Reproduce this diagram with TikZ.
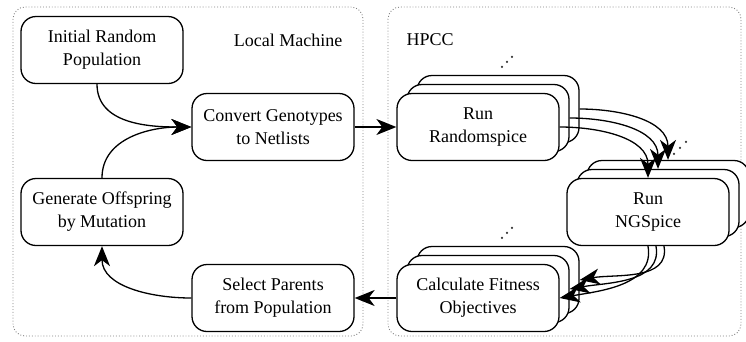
\documentclass[tikz,border=0pt]{standalone}
\usepackage{fontspec}
\setmainfont{Liberation Serif}
\newfontfamily\boxfont{Liberation Serif}
\usetikzlibrary{arrows.meta}

\tikzset{
  task/.style={draw, line width=1.3pt, rounded corners=15pt, fill=white, align=center,
    minimum width=162pt, minimum height=67pt, inner sep=2pt, font=\boxfont\fontsize{18}{23}\selectfont},
  machine/.style={draw=gray, dotted, line width=0.9pt, rounded corners=12pt},
  arr/.style={line width=1.3pt, -{Stealth[length=20pt,width=16pt,inset=6pt]}},
  lbl/.style={font=\boxfont\fontsize{18}{23}\selectfont},
  moredots/.style={fill=black!80, radius=1.2pt},
}

\begin{document}
\begin{tikzpicture}[x=1pt,y=-1pt]
\useasboundingbox (0,0) rectangle (746,341);
% the two machines
\draw[machine] (13,7) rectangle (363,336);
\draw[machine] (388,7) rectangle (741,336);
\node[lbl] (local) at (288,40) {Local Machine};
\node[lbl,anchor=west] (hpcc) at (403,40) {HPCC};

% steps on the local machine
\node[task] (init) at (102,50) {Initial Random\\Population};
\node[task] (conv) at (273,127) {Convert Genotypes\\to Netlists};
\node[task] (gen) at (102,212) {Generate Offspring\\by Mutation};
\node[task] (sel) at (273,298) {Select Parents\\from Population};

% steps on the HPCC, three copies each
\foreach \k in {2,1} {
  \node[task] (rand\k) at (478+10*\k,127-9*\k) {};
  \node[task] (calc\k) at (478+10*\k,298-9*\k) {};
  \node[task] (ngs\k) at (648+10*\k,212-9*\k) {};
}
\node[task] (rand0) at (478,127) {Run\\Randomspice};
\node[task] (calc0) at (478,298) {Calculate Fitness\\Objectives};
\node[task] (ngs0) at (648,212) {Run\\NGSpice};

% more copies
\foreach \d in {0,1,2} {
  \fill[moredots] ([shift={(4+5*\d,-8-5*\d)}]rand2.north) circle;
  \fill[moredots] ([shift={(4+5*\d,-8-5*\d)}]calc2.north) circle;
  \fill[moredots] ([shift={(6+6*\d,-6-6*\d)}]ngs2.north) circle;
}

% flow
\draw[arr] ([xshift=-5pt]init.south) to[out=-90,in=180] (conv.west);
\draw[arr] (gen.north) to[out=90,in=180] (conv.west);
\draw[arr] (sel.west) to[out=180,in=-90] (gen.south);
\draw[arr] (conv.east) -- (rand0.west);
\foreach \k in {0,1,2} {
  \draw[arr] (rand\k.east) to[out=0,in=90] (ngs\k.north);
  \draw[arr] ([xshift=8*\k pt]ngs0.south) to[out=-80,in=10] (calc\k.east);
}
\draw[arr] (calc0.west) -- (sel.east);
\end{tikzpicture}
\end{document}
